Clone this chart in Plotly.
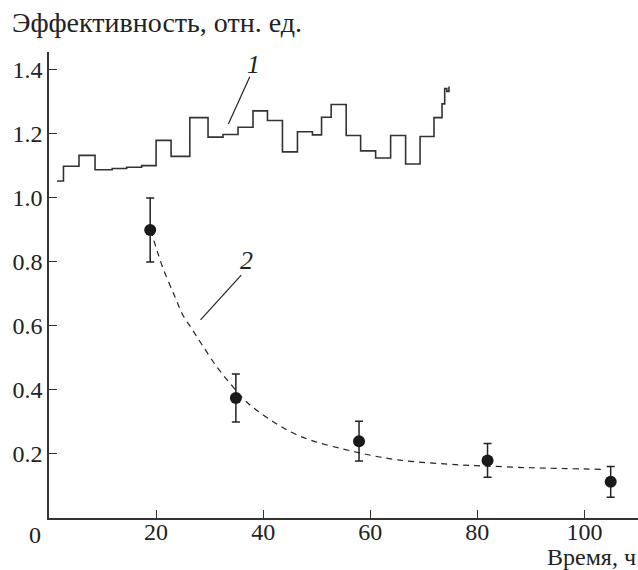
import plotly.graph_objects as go

# Curve 1: step histogram (time, h ; efficiency)
step_x = [1.5, 2.7, 5.6, 8.6, 11.8, 14.5, 17.3, 20.0, 22.8, 26.3, 29.7, 32.5, 35.3, 38.1, 40.8,
          43.6, 46.4, 49.2, 50.9, 52.7, 55.5, 58.2, 61.0, 63.8, 66.6, 69.3, 71.9, 73.4, 73.9, 74.3, 74.7]
step_y = [1.053, 1.099, 1.133, 1.088, 1.092, 1.096, 1.101, 1.180, 1.130, 1.251, 1.190, 1.198, 1.221,
          1.272, 1.242, 1.144, 1.207, 1.197, 1.252, 1.292, 1.195, 1.147, 1.125, 1.195, 1.106, 1.192,
          1.251, 1.294, 1.342, 1.333, 1.348]

# Curve 2: measured points with error bars
pts_x = [18.9, 34.9, 57.9, 81.9, 104.9]
pts_y = [0.90, 0.375, 0.24, 0.18, 0.113]
pts_err = [0.10, 0.075, 0.062, 0.053, 0.048]

# Dashed fit curve
fit_x = [19.0, 20.0, 21.3, 23.5, 25.0, 26.6, 28.4, 31.3, 33.7, 36.5, 40.0, 46.8, 57.9, 65.5, 76.7, 82.0, 90.0, 103.5]
fit_y = [0.90, 0.845, 0.78, 0.692, 0.634, 0.593, 0.546, 0.473, 0.423, 0.369, 0.322, 0.256, 0.204, 0.181,
         0.166, 0.162, 0.157, 0.152]

x_ticks = [20, 40, 60, 80, 100]
y_ticks = [0.2, 0.4, 0.6, 0.8, 1.0, 1.2, 1.4]

FONT = "Liberation Serif, Times New Roman, serif"
INK = "#222222"
TICK_SIZE = 24

fig = go.Figure()
fig.add_trace(go.Scatter(x=step_x, y=step_y, mode="lines", line=dict(shape="hv", color="#333333", width=1.6),
                         showlegend=False, hoverinfo="skip"))
fig.add_trace(go.Scatter(x=fit_x, y=fit_y, mode="lines", line=dict(shape="spline", color="#222222", width=1.2,
                         dash="6px,5px"), showlegend=False, hoverinfo="skip"))
fig.add_trace(go.Scatter(x=pts_x, y=pts_y, mode="markers", marker=dict(size=12, color="#1a1a1a"),
                         error_y=dict(type="data", array=pts_err, visible=True, color="#222222", thickness=1.5, width=4),
                         showlegend=False))

# leader lines for curve labels
fig.add_shape(type="line", x0=37.5, y0=1.379, x1=33.5, y1=1.231, line=dict(color=INK, width=1.2))
fig.add_shape(type="line", x0=35.9, y0=0.759, x1=28.3, y1=0.619, line=dict(color=INK, width=1.2))

fig.add_annotation(x=38.1, y=1.416, text="<i>1</i>", showarrow=False, font=dict(family=FONT, size=26, color=INK))
fig.add_annotation(x=36.8, y=0.806, text="<i>2</i>", showarrow=False, font=dict(family=FONT, size=26, color=INK))

fig.add_annotation(xref="paper", yref="paper", x=-0.066, y=1.064, xanchor="left", yanchor="middle",
                   text="Эффективность, отн. ед.", showarrow=False, font=dict(family=FONT, size=28, color=INK))
fig.add_annotation(xref="paper", yref="paper", x=1.0, y=-0.084, xanchor="right", yanchor="middle",
                   text="Время, ч", showarrow=False, font=dict(family=FONT, size=24, color=INK))
fig.add_annotation(xref="paper", yref="paper", x=-0.024, y=-0.036, xanchor="center", yanchor="middle",
                   text="0", showarrow=False, font=dict(family=FONT, size=TICK_SIZE, color=INK))

fig.update_layout(
    width=638, height=570,
    margin=dict(l=49, r=0, t=52, b=52),
    paper_bgcolor="white", plot_bgcolor="white",
    xaxis=dict(range=[0, 110], tickvals=x_ticks, ticktext=[str(v) for v in x_ticks], ticks="inside",
               ticklen=8, tickwidth=1.3, tickcolor="#333333", showline=True, linecolor="#333333", linewidth=1.6,
               showgrid=False, zeroline=False, ticklabelstandoff=-9,
               tickfont=dict(family=FONT, size=TICK_SIZE, color=INK)),
    yaxis=dict(range=[0, 1.456], tickvals=y_ticks, ticktext=[f"{v:.1f}" for v in y_ticks], ticks="inside",
               ticklen=8, tickwidth=1.3, tickcolor="#333333", showline=True, linecolor="#333333", linewidth=1.6,
               showgrid=False, zeroline=False,
               tickfont=dict(family=FONT, size=TICK_SIZE, color=INK)),
)

fig.write_html("out.html", config={"displayModeBar": False},
               post_script="document.body.style.margin='0px';document.body.style.overflow='hidden';")
